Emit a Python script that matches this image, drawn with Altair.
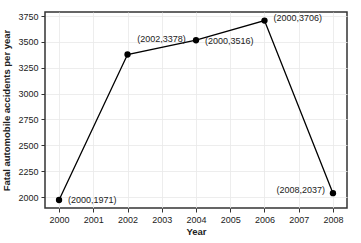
import altair as alt
import pandas as pd

years = [2000, 2002, 2004, 2006, 2008]
accidents = [1971, 3378, 3516, 3706, 2037]
labels = ["(2000,1971)", "(2002,3378)", "(2000,3516)", "(2000,3706)", "(2008,2037)"]
x_ticks = [2000, 2001, 2002, 2003, 2004, 2005, 2006, 2007, 2008]
y_ticks = [2000, 2250, 2500, 2750, 3000, 3250, 3500, 3750]

df = pd.DataFrame({"year": years, "acc": accidents, "label": labels})

FONT = "Liberation Sans"
xs = alt.Scale(domain=[1999.59, 2008.41], nice=False, zero=False)
ys = alt.Scale(domain=[1894, 3789], nice=False, zero=False)

x = alt.X("year:Q", scale=xs, title="Year",
          axis=alt.Axis(values=x_ticks, format="d", labelOverlap=False, tickCount=9))
y = alt.Y("acc:Q", scale=ys, title="Fatal automobile accidents per year",
          axis=alt.Axis(values=y_ticks, format="d", labelOverlap=False, tickCount=8))

base = alt.Chart(df).encode(x=x, y=y)
line = base.mark_line(color="black", strokeWidth=1.3)
pts = base.mark_circle(color="black", opacity=1, size=40)

offsets = [
    (2000, "left", 9, 0),
    (2002, "center", 34, -16),
    (2004, "left", 9, 1),
    (2006, "left", 9, -3),
    (2008, "right", -8, -3),
]
texts = []
for yr, al, dx, dy in offsets:
    texts.append(
        base.transform_filter(alt.datum.year == yr)
        .mark_text(align=al, baseline="middle", dx=dx, dy=dy, fontSize=9,
                   font=FONT, color="#222")
        .encode(text="label:N")
    )

chart = alt.layer(line, pts, *texts).properties(
    width=302, height=196,
    autosize=alt.AutoSizeParams(type="none"),
    padding={"left": 45, "top": 12, "right": 14, "bottom": 35},
).configure_view(
    stroke="#333", strokeWidth=1.5
).configure_axis(
    labelFont=FONT, titleFont=FONT, labelFontSize=9, titleFontSize=9.5,
    labelColor="#222", titleColor="#222", titleFontWeight="bold",
    gridColor="#e8e8e8", gridWidth=0.8, domain=False,
    tickColor="#333", tickSize=4, tickWidth=1, labelPadding=3,
).configure_axisX(titlePadding=2).configure_axisY(titlePadding=6)

chart.save("out.html", embed_options={"renderer": "svg", "actions": False})
